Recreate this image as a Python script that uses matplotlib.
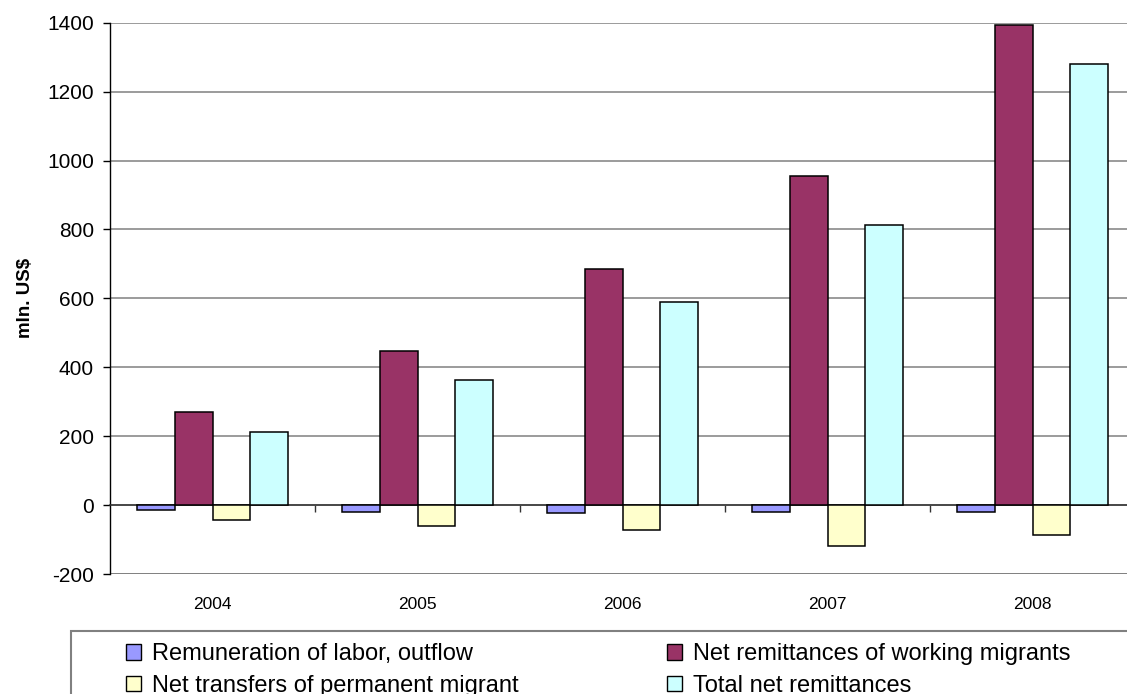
import numpy as np
import matplotlib.pyplot as plt
from matplotlib.patches import Rectangle, Patch

plt.rcParams['font.family'] = ['Liberation Sans', 'DejaVu Sans']
plt.rcParams['axes.unicode_minus'] = False

years = ['2004', '2005', '2006', '2007', '2008']
labor_outflow = [-14, -19, -22, -20, -21]
net_working = [270, 448, 686, 954, 1393]
net_permanent = [-43, -62, -73, -118, -88]
total_net = [212, 364, 588, 813, 1281]

series_names = ['Remuneration of labor, outflow',
                'Net remittances of working migrants',
                'Net transfers of permanent migrant',
                'Total net remittances']
colors = ['#9999FF', '#993366', '#FFFFCC', '#CCFFFF']

W, H = 1127, 694
fig = plt.figure(figsize=(W / 100, H / 100), dpi=100)
ax = fig.add_axes([110 / W, 1 - 574 / H, 1025 / W, (574 - 22.7) / H])

x = np.arange(len(years))
bw = 0.185
all_series = [labor_outflow, net_working, net_permanent, total_net]
for i, (vals, col) in enumerate(zip(all_series, colors)):
    ax.bar(x + (i - 1.5) * bw, vals, bw, color=col, edgecolor='black',
           linewidth=1.1, zorder=3)

ax.set_xlim(-0.5, len(years) - 0.5)
ax.set_ylim(-200, 1400)
ax.set_yticks(np.arange(-200, 1401, 200))
ax.yaxis.grid(True, color='#808080', linewidth=1.1, zorder=0)
ax.tick_params(axis='y', direction='out', length=5, width=1, color='black',
               labelsize=15, pad=6.5)

for s in ['top', 'right']:
    ax.spines[s].set_visible(False)
ax.spines['left'].set_color('black')
ax.spines['left'].set_linewidth(1)

# category axis crosses at zero, with tick marks between groups
ax.spines['bottom'].set_position(('data', 0))
ax.spines['bottom'].set_color('#333333')
ax.spines['bottom'].set_linewidth(1.1)
ax.set_xticks(np.arange(0.5, len(years) - 0.5, 1))
ax.set_xticklabels([])
ax.tick_params(axis='x', direction='out', length=5, width=1, color='#333333')
ax.axhline(-200, color='#808080', linewidth=1.3, zorder=1)

for xi, yr in zip(x, years):
    ax.text(xi, -0.055, yr, transform=ax.get_xaxis_transform(),
            ha='center', va='center', fontsize=12.5)

ax.set_ylabel('mln. US$', fontsize=13.5, fontweight='bold')
ax.yaxis.set_label_coords(-76 / 1025, 0.5)

# legend box runs off the bottom and right edges
fig.patches.append(Rectangle((71 / W, -0.2), 1.0, (694 - 631) / H + 0.2,
                             transform=fig.transFigure, facecolor='none',
                             edgecolor='#808080', linewidth=1.5))
order = [0, 2, 1, 3]
handles = [Patch(facecolor=colors[i], edgecolor='black', linewidth=1)
           for i in order]
fig.legend(handles, [series_names[i] for i in order], ncol=2,
           loc='upper left', bbox_to_anchor=(126 / W, 1 - 643 / H),
           frameon=False, fontsize=17, handlelength=0.64, handleheight=0.64,
           handletextpad=0.45, columnspacing=6.3, labelspacing=0.42,
           borderpad=0, borderaxespad=0)

fig.savefig('out.png', dpi=100)
